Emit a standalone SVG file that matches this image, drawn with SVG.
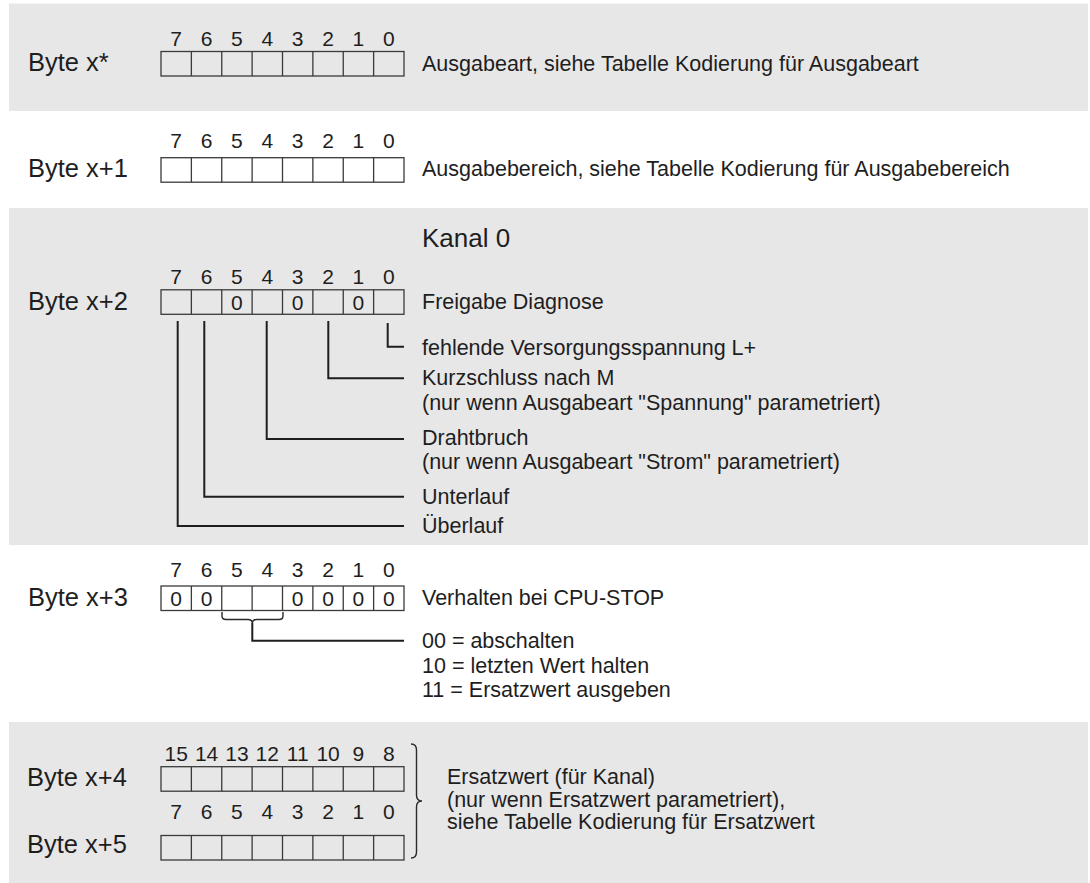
<svg xmlns="http://www.w3.org/2000/svg" width="1090" height="883" viewBox="0 0 1090 883">
<style>
  .band { fill: #e7e7e7; }
  text { font-family: "Liberation Sans", Arial, sans-serif; fill: #1e1e1e; }
  .lbl { font-size: 25.5px; }
  .dig { font-size: 21px; text-anchor: middle; }
  .desc { font-size: 21.5px; }
  .head { font-size: 26px; }
  .cell { fill: none; stroke: #3a3a3a; stroke-width: 1.3; }
  .conn { fill: none; stroke: #1e1e1e; stroke-width: 2; }
  .brace { fill: none; stroke: #2a2a2a; stroke-width: 1.4; }
</style>
<defs>
  <g id="cells">
    <rect class="cell" x="0" y="0" width="243" height="24.5"/>
    <path class="cell" d="M30.375,0V24.5M60.75,0V24.5M91.125,0V24.5M121.5,0V24.5M151.875,0V24.5M182.25,0V24.5M212.625,0V24.5"/>
  </g>
</defs>
<rect width="1090" height="883" fill="#ffffff"/>
<g id="bands">
  <rect class="band" x="9" y="3.5" width="1079" height="107.5"/>
  <rect class="band" x="9" y="208" width="1079" height="337"/>
  <rect class="band" x="9" y="722" width="1079" height="161"/>
</g>

<g id="byte0">
  <text class="lbl" x="28" y="70.5">Byte x*</text>
  <g class="dig">
    <text class="dig" x="176.2" y="46">7</text><text class="dig" x="206.6" y="46">6</text><text class="dig" x="236.9" y="46">5</text><text class="dig" x="267.3" y="46">4</text><text class="dig" x="297.7" y="46">3</text><text class="dig" x="328.1" y="46">2</text><text class="dig" x="358.4" y="46">1</text><text class="dig" x="388.8" y="46">0</text>
  </g>
  <use href="#cells" x="161" y="51.5"/>
  <text class="desc" x="422" y="70.5">Ausgabeart, siehe Tabelle Kodierung für Ausgabeart</text>
</g>

<g id="byte1">
  <text class="lbl" x="28" y="177">Byte x+1</text>
  <text class="dig" x="176.2" y="148.3">7</text><text class="dig" x="206.6" y="148.3">6</text><text class="dig" x="236.9" y="148.3">5</text><text class="dig" x="267.3" y="148.3">4</text><text class="dig" x="297.7" y="148.3">3</text><text class="dig" x="328.1" y="148.3">2</text><text class="dig" x="358.4" y="148.3">1</text><text class="dig" x="388.8" y="148.3">0</text>
  <use href="#cells" x="161" y="157.7"/>
  <text class="desc" x="422" y="176">Ausgabebereich, siehe Tabelle Kodierung für Ausgabebereich</text>
</g>

<g id="byte2">
  <text class="head" x="422" y="246.7">Kanal 0</text>
  <text class="lbl" x="28" y="310">Byte x+2</text>
  <text class="dig" x="176.2" y="283.5">7</text><text class="dig" x="206.6" y="283.5">6</text><text class="dig" x="236.9" y="283.5">5</text><text class="dig" x="267.3" y="283.5">4</text><text class="dig" x="297.7" y="283.5">3</text><text class="dig" x="328.1" y="283.5">2</text><text class="dig" x="358.4" y="283.5">1</text><text class="dig" x="388.8" y="283.5">0</text>
  <use href="#cells" x="161" y="289.8"/>
  <text class="dig" x="236.9" y="309.5">0</text><text class="dig" x="297.7" y="309.5">0</text><text class="dig" x="358.4" y="309.5">0</text>
  <text class="desc" x="422" y="309">Freigabe Diagnose</text>
  <text class="desc" x="422" y="355">fehlende Versorgungsspannung L+</text>
  <text class="desc" x="422" y="385">Kurzschluss nach M</text>
  <text class="desc" x="422" y="410">(nur wenn Ausgabeart "Spannung" parametriert)</text>
  <text class="desc" x="422" y="445">Drahtbruch</text>
  <text class="desc" x="422" y="469">(nur wenn Ausgabeart "Strom" parametriert)</text>
  <text class="desc" x="422" y="504">Unterlauf</text>
  <text class="desc" x="422" y="533">Überlauf</text>
</g>

<g id="byte3">
  <text class="lbl" x="28" y="605.7">Byte x+3</text>
  <text class="dig" x="176.2" y="576.5">7</text><text class="dig" x="206.6" y="576.5">6</text><text class="dig" x="236.9" y="576.5">5</text><text class="dig" x="267.3" y="576.5">4</text><text class="dig" x="297.7" y="576.5">3</text><text class="dig" x="328.1" y="576.5">2</text><text class="dig" x="358.4" y="576.5">1</text><text class="dig" x="388.8" y="576.5">0</text>
  <use href="#cells" x="161" y="586"/>
  <text class="dig" x="176.2" y="605.5">0</text><text class="dig" x="206.6" y="605.5">0</text><text class="dig" x="297.7" y="605.5">0</text><text class="dig" x="328.1" y="605.5">0</text><text class="dig" x="358.4" y="605.5">0</text><text class="dig" x="388.8" y="605.5">0</text>
  <path class="brace" d="M222,612 V616 Q222,619.5 226,619.5 H248 Q252,619.5 252.3,623 Q252.6,619.5 256.6,619.5 H279 Q283,619.5 283,616 V612"/>
  <text class="desc" x="422" y="605">Verhalten bei CPU-STOP</text>
  <text class="desc" x="422" y="648">00 = abschalten</text>
  <text class="desc" x="422" y="672.5">10 = letzten Wert halten</text>
  <text class="desc" x="422" y="697">11 = Ersatzwert ausgeben</text>
</g>

<g id="byte45">
  <text class="lbl" x="27" y="786">Byte x+4</text>
  <text class="dig" x="176.2" y="760.7">15</text><text class="dig" x="206.6" y="760.7">14</text><text class="dig" x="236.9" y="760.7">13</text><text class="dig" x="267.3" y="760.7">12</text><text class="dig" x="297.7" y="760.7">11</text><text class="dig" x="328.1" y="760.7">10</text><text class="dig" x="358.4" y="760.7">9</text><text class="dig" x="388.8" y="760.7">8</text>
  <use href="#cells" x="161" y="766.7"/>
  <text class="lbl" x="27" y="853">Byte x+5</text>
  <text class="dig" x="176.2" y="819">7</text><text class="dig" x="206.6" y="819">6</text><text class="dig" x="236.9" y="819">5</text><text class="dig" x="267.3" y="819">4</text><text class="dig" x="297.7" y="819">3</text><text class="dig" x="328.1" y="819">2</text><text class="dig" x="358.4" y="819">1</text><text class="dig" x="388.8" y="819">0</text>
  <use href="#cells" x="161" y="835.5"/>
  <path class="brace" d="M411,744 Q416.5,744 416.5,750 V795 Q416.5,801 422,801 Q416.5,801 416.5,807 V852 Q416.5,858 411,858"/>
  <text class="desc" x="447" y="784">Ersatzwert (für Kanal)</text>
  <text class="desc" x="447" y="806.7">(nur wenn Ersatzwert parametriert),</text>
  <text class="desc" x="447" y="829">siehe Tabelle Kodierung für Ersatzwert</text>
</g>

<g id="connectors">
  <path class="conn" d="M387.7,323 V346.7 H404"/>
  <path class="conn" d="M328.3,321 V378.3 H404"/>
  <path class="conn" d="M266.7,321 V439 H404"/>
  <path class="conn" d="M204.3,321 V496.7 H404"/>
  <path class="conn" d="M177.7,321 V526 H404"/>
  <path class="conn" d="M252.3,623 V640.7 H404"/>
</g>
</svg>
